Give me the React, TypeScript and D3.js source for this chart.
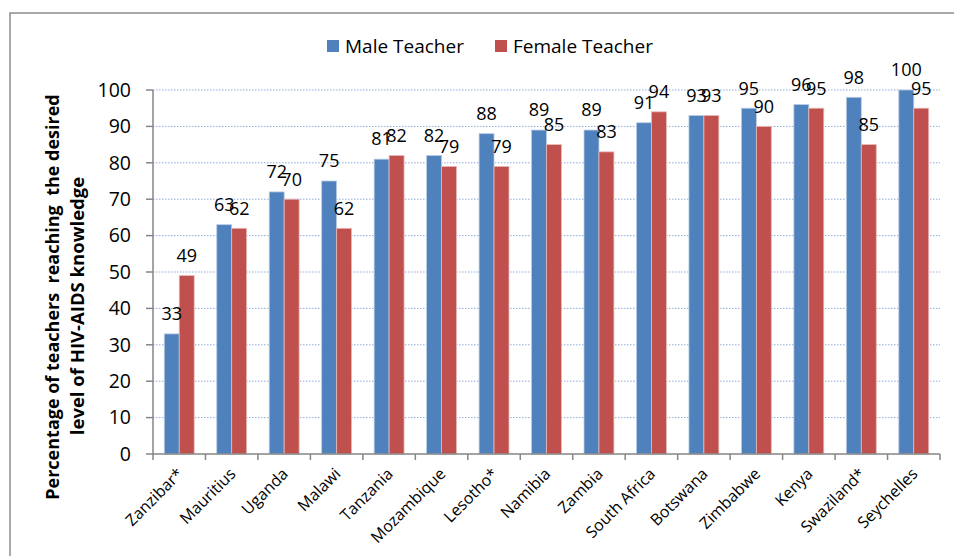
import React from "react";
import * as d3 from "d3";

const countries = ["Zanzibar*", "Mauritius", "Uganda", "Malawi", "Tanzania", "Mozambique", "Lesotho*", "Namibia", "Zambia", "South Africa", "Botswana", "Zimbabwe", "Kenya", "Swaziland*", "Seychelles"];
const maleValues = [33, 63, 72, 75, 81, 82, 88, 89, 89, 91, 93, 95, 96, 98, 100];
const femaleValues = [49, 62, 70, 62, 82, 79, 79, 85, 83, 94, 93, 90, 95, 85, 95];
const seriesNames = ["Male Teacher", "Female Teacher"];
const seriesColors = ["#4F81BD", "#C0504D"];
const yTicks = [0, 10, 20, 30, 40, 50, 60, 70, 80, 90, 100];

const W = 954, H = 556;
const left = 153, right = 940, top = 90, bottom = 454;
const FONT = "'Open Sans', 'Noto Sans', sans-serif";

export default function App() {
  const x0 = d3.scaleBand<string>().domain(countries).range([left, right]).paddingInner(0.43).paddingOuter(0.215);
  const band = d3.scaleBand<string>().domain(countries).range([left, right]);
  const x1 = d3.scaleBand<number>().domain([0, 1]).range([0, x0.bandwidth()]);
  const y = d3.scaleLinear().domain([0, 100]).range([bottom, top]);
  const series = [maleValues, femaleValues];

  return (
    <svg width={W} height={H} style={{ display: "block", position: "absolute", left: 0, top: 0, background: "#fff" }}>
      <rect x={10} y={13} width={W + 20} height={H + 20} fill="#fff" stroke="#8c8c8c" strokeWidth={1.5} />
      {/* gridlines */}
      {yTicks.filter((t) => t > 0).map((t) => (
        <line key={t} x1={left} x2={right} y1={y(t)} y2={y(t)} stroke="#8eaadb" strokeWidth={1} strokeDasharray="1.5,1.5" />
      ))}
      {/* bars */}
      {series.map((vals, si) =>
        vals.map((v, i) => (
          <rect
            key={`${si}-${i}`}
            x={(x0(countries[i]) as number) + (x1(si) as number)}
            y={y(v)}
            width={x1.bandwidth()}
            height={y(0) - y(v)}
            fill={seriesColors[si]}
            stroke={si === 0 ? "#b9cde5" : "#e6b9b8"}
            strokeWidth={0.8}
          />
        ))
      )}
      {/* data labels */}
      {series.map((vals, si) =>
        vals.map((v, i) => (
          <text
            key={`l-${si}-${i}`}
            x={(x0(countries[i]) as number) + (x1(si) as number) + x1.bandwidth() / 2}
            y={y(v) - 20}
            dy="0.35em"
            textAnchor="middle"
            fontFamily={FONT}
            fontSize={18}
            fill="#000"
          >
            {v}
          </text>
        ))
      )}
      {/* y axis */}
      <line x1={left} x2={left} y1={top} y2={bottom} stroke="#868686" strokeWidth={1.5} />
      {yTicks.map((t) => (
        <g key={`yt-${t}`}>
          <line x1={left - 7} x2={left} y1={y(t)} y2={y(t)} stroke="#868686" strokeWidth={1.5} />
          <text x={131} y={y(t)} dy="0.35em" textAnchor="end" fontFamily={FONT} fontSize={19.5} fill="#000">
            {t}
          </text>
        </g>
      ))}
      {/* x axis */}
      <line x1={left} x2={right} y1={bottom} y2={bottom} stroke="#868686" strokeWidth={1.5} />
      {countries.map((c, i) => (
        <line key={`xt-${i}`} x1={band(c) as number} x2={band(c) as number} y1={bottom} y2={bottom + 6} stroke="#868686" strokeWidth={1.5} />
      ))}
      <line x1={right} x2={right} y1={bottom} y2={bottom + 6} stroke="#868686" strokeWidth={1.5} />
      {countries.map((c) => {
        const cx = (band(c) as number) + band.bandwidth() / 2 + 1;
        const cy = bottom + 17;
        return (
          <text key={`xl-${c}`} transform={`translate(${cx},${cy}) rotate(-45)`} textAnchor="end" dy="0.35em" fontFamily={FONT} fontSize={16} fill="#000">
            {c}
          </text>
        );
      })}
      {/* y axis title */}
      <text transform={`translate(53,297) rotate(-90)`} textAnchor="middle" dy="0.35em" fontFamily={FONT} fontWeight="bold" fontSize={18} fill="#000" style={{ whiteSpace: "pre" }}>
        {"Percentage of teachers  reaching  the desired"}
      </text>
      <text transform={`translate(78,306) rotate(-90)`} textAnchor="middle" dy="0.35em" fontFamily={FONT} fontWeight="bold" fontSize={18.5} fill="#000">
        level of HIV-AIDS knowledge
      </text>
      {/* legend */}
      {seriesNames.map((n, i) => {
        const lx = i === 0 ? 327 : 495;
        return (
          <g key={n}>
            <rect x={lx} y={40} width={12} height={12} fill={seriesColors[i]} />
            <text x={lx + 18} y={46} dy="0.35em" fontFamily={FONT} fontSize={19} fill="#000">
              {n}
            </text>
          </g>
        );
      })}
    </svg>
  );
}
